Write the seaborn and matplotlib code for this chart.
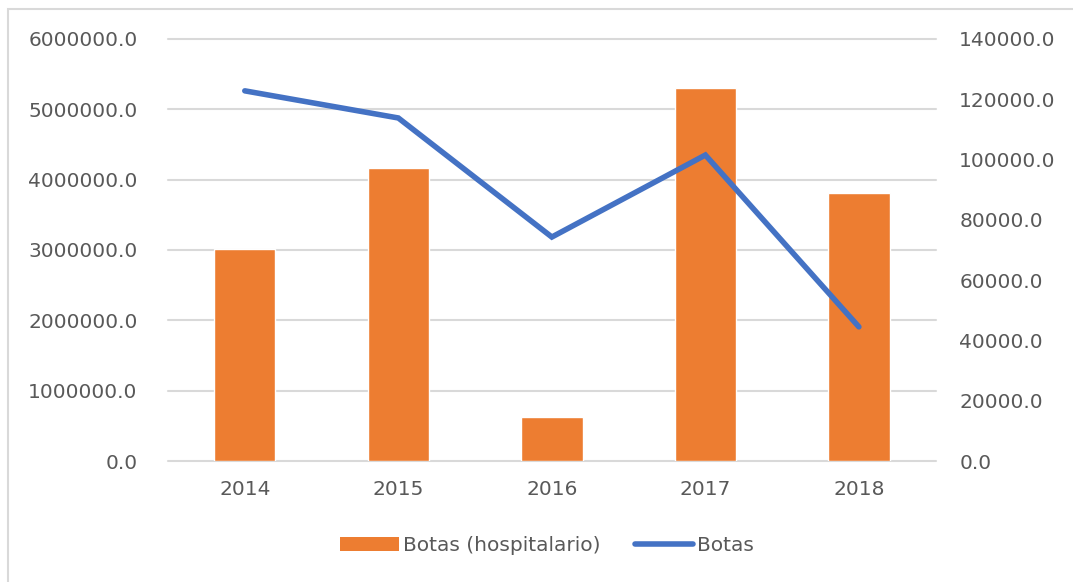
import numpy as np
import pandas as pd
import matplotlib.pyplot as plt
import seaborn as sns
from matplotlib.patches import Rectangle
from matplotlib.lines import Line2D
from matplotlib.patches import Patch

# Data
years = ["2014", "2015", "2016", "2017", "2018"]
botas_hospitalario = [3015000, 4166000, 626000, 5300000, 3810000]
botas = [122800, 113800, 74300, 101500, 44500]

left_ticks = [0, 1000000, 2000000, 3000000, 4000000, 5000000, 6000000]
right_ticks = [0, 20000, 40000, 60000, 80000, 100000, 120000, 140000]

orange = "#ED7D31"
blue = "#4472C4"
text_gray = "#595959"
grid_gray = "#D9D9D9"

sns.set_style("white")
plt.rcParams["font.family"] = ["DejaVu Sans"]

fig = plt.figure(figsize=(10.73, 5.82), dpi=100)
ax = fig.add_axes([0.1566, 0.2079, 0.7154, 0.7251])

df = pd.DataFrame({"year": years, "hosp": botas_hospitalario, "botas": botas})

sns.barplot(data=df, x="year", y="hosp", color=orange, width=0.4,
            saturation=1, ax=ax, zorder=2)

ax.set_ylim(0, 6000000)
ax.set_yticks(left_ticks)
ax.set_yticklabels([f"{v:.1f}" for v in left_ticks])
ax.yaxis.grid(True, color=grid_gray, linewidth=1.5, zorder=0)
for gl in ax.get_ygridlines():
    gl.set_clip_on(False)
ax.set_axisbelow(True)
ax.set_xlabel("")
ax.set_ylabel("")
for s in ax.spines.values():
    s.set_visible(False)
ax.tick_params(axis="y", length=0, pad=22, labelsize=14.5, labelcolor=text_gray)
ax.tick_params(axis="x", length=0, pad=14, labelsize=14.5, labelcolor=text_gray)

ax2 = ax.twinx()
x_pos = np.arange(len(years))
sns.lineplot(x=x_pos, y=botas, color=blue, linewidth=4, ax=ax2,
             solid_capstyle="round", solid_joinstyle="miter")
ax2.set_ylim(0, 140000)
ax2.set_yticks(right_ticks)
ax2.set_yticklabels([f"{v:.1f}" for v in right_ticks])
ax2.set_xlim(-0.5, len(years) - 0.5)
ax.set_xlim(-0.5, len(years) - 0.5)
ax2.set_ylabel("")
for s in ax2.spines.values():
    s.set_visible(False)
ax2.tick_params(axis="y", length=0, pad=17, labelsize=14.5, labelcolor=text_gray)

# legend
handles = [Patch(facecolor=orange, edgecolor="none"),
           Line2D([0], [0], color=blue, linewidth=4, solid_capstyle="round")]
fig.legend(handles, ["Botas (hospitalario)", "Botas"], loc="center",
           bbox_to_anchor=(0.51, 0.062), ncol=2, frameon=False,
           fontsize=14.5, labelcolor=text_gray, handlelength=2.9,
           handletextpad=0.2, columnspacing=1.7)

# outer chart border
fig.patches.append(Rectangle((8 / 1073, -0.1), 1.2, 1 - 9 / 582 + 0.1,
                             transform=fig.transFigure, fill=False,
                             edgecolor="#D9D9D9", linewidth=1.5))

fig.savefig("out.png", dpi=100)
